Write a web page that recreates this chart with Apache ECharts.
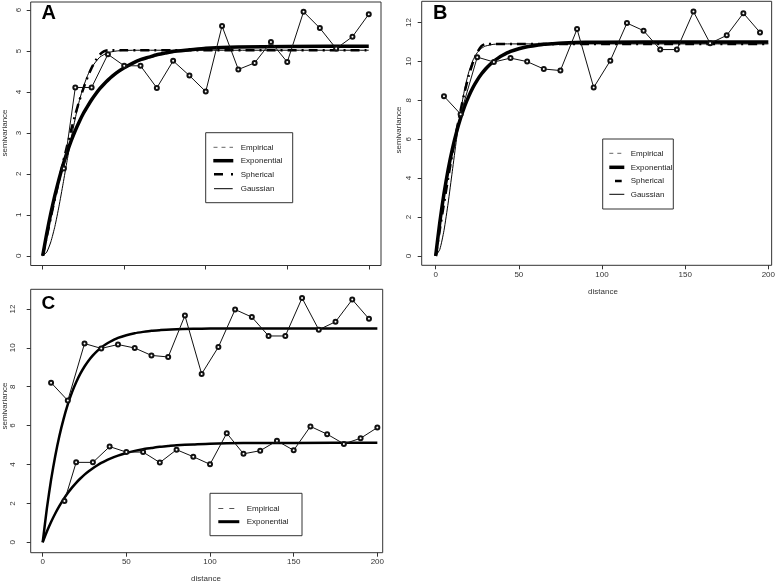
<!DOCTYPE html>
<html><head><meta charset="utf-8">
<script src="https://cdn.jsdelivr.net/npm/echarts@6/dist/echarts.min.js"></script>
<style>html,body{margin:0;padding:0;background:#fff}#c{width:778px;height:584px}</style>
</head><body><div id="c"></div>
<script>
// ---- data ----
// empirical semivariogram, data set 1 (panel A, lower series of C)
const empX1 = [13, 20, 30, 40, 50, 60, 70, 80, 90, 100, 110, 120, 130, 140, 150, 160, 170, 180, 190, 200];
const empY1 = [2.13, 4.11, 4.11, 4.92, 4.64, 4.64, 4.10, 4.76, 4.40, 4.01, 5.61, 4.55, 4.71, 5.22, 4.73, 5.96, 5.56, 5.06, 5.35, 5.90];
// empirical semivariogram, data set 2 (panel B, upper series of C)
const empX2 = [5, 15, 25, 35, 45, 55, 65, 75, 85, 95, 105, 115, 125, 135, 145, 155, 165, 175, 185, 195];
const empY2 = [8.21, 7.29, 10.22, 9.97, 10.17, 9.99, 9.61, 9.53, 11.66, 8.66, 10.04, 11.97, 11.58, 10.61, 10.61, 12.56, 10.93, 11.34, 12.48, 11.49];

// fitted model curves, data set 1
const expX1 = [0, 2.5, 5, 7.5, 10, 12.5, 15, 17.5, 20, 22.5, 25, 27.5, 30, 32.5, 35, 37.5, 40, 45, 50, 55, 60, 65, 70, 75, 80, 90, 100, 120, 150, 200];
const expY1 = [0, 0.55, 1.04, 1.48, 1.87, 2.22, 2.53, 2.81, 3.06, 3.28, 3.48, 3.65, 3.81, 3.95, 4.08, 4.19, 4.29, 4.46, 4.59, 4.70, 4.79, 4.85, 4.91, 4.95, 4.99, 5.03, 5.07, 5.10, 5.11, 5.12];
const sphX1 = [0, 2.5, 5, 7.5, 10, 12.5, 15, 17.5, 20, 22.5, 25, 27.5, 30, 32.5, 35, 37.5, 40, 200];
const sphY1 = [0, 0.47, 0.94, 1.40, 1.84, 2.28, 2.69, 3.08, 3.45, 3.79, 4.09, 4.36, 4.59, 4.77, 4.91, 4.99, 5.02, 5.02];
const gauX1 = [0, 2.5, 5, 7.5, 10, 12.5, 15, 17.5, 20, 22.5, 25, 27.5, 30, 35, 40, 45, 50, 60, 200];
const gauY1 = [0, 0.09, 0.34, 0.72, 1.21, 1.76, 2.33, 2.87, 3.36, 3.79, 4.13, 4.40, 4.60, 4.85, 4.96, 5.00, 5.015, 5.02, 5.02];

// fitted model curves, data set 2
const expX2 = [0, 2.5, 5, 7.5, 10, 12.5, 15, 17.5, 20, 22.5, 25, 27.5, 30, 32.5, 35, 37.5, 40, 45, 50, 55, 60, 65, 70, 80, 90, 100, 150, 200];
const expY2 = [0, 1.74, 3.21, 4.44, 5.48, 6.35, 7.09, 7.71, 8.23, 8.67, 9.04, 9.35, 9.61, 9.83, 10.02, 10.17, 10.30, 10.51, 10.65, 10.75, 10.82, 10.88, 10.91, 10.96, 10.98, 10.99, 11.0, 11.0];
const sphX2 = [0, 2.5, 5, 7.5, 10, 12.5, 15, 17.5, 20, 22.5, 25, 27.5, 30, 200];
const sphY2 = [0, 1.36, 2.70, 4.00, 5.25, 6.42, 7.49, 8.46, 9.29, 9.96, 10.47, 10.79, 10.9, 10.9];
const gauX2 = [0, 2.5, 5, 7.5, 10, 12.5, 15, 17.5, 20, 22.5, 25, 27.5, 30, 35, 40, 200];
const gauY2 = [0, 0.34, 1.31, 2.72, 4.35, 5.98, 7.44, 8.61, 9.48, 10.08, 10.45, 10.67, 10.79, 10.88, 10.9, 10.9];

const xTicks = [0, 50, 100, 150, 200];
const yTicksA = [0, 1, 2, 3, 4, 5, 6];
const yTicksB = [0, 2, 4, 6, 8, 10, 12];
const legendA = ['Empirical', 'Exponential', 'Spherical', 'Gaussian'];
const legendC = ['Empirical', 'Exponential'];
const panelLetters = ['A', 'B', 'C'];

// ---- chart ----
const FONT = '"Liberation Sans", Arial, Helvetica, sans-serif';
const TXT = '#333';
const pairs = (xs, ys) => xs.map((x, i) => [x, ys[i]]);

function xAx(gi, min, max, showLabels) {
  return {
    type: 'value', gridIndex: gi, min: min, max: max, position: 'bottom',
    axisLine: { show: false, onZero: false },
    axisTick: { show: true, length: 4, lineStyle: { color: '#333', width: 1 }, customValues: xTicks },
    axisLabel: { show: showLabels, customValues: xTicks, fontSize: 8, fontFamily: FONT, color: TXT, margin: 5 },
    splitLine: { show: false }
  };
}
function yAx(gi, min, max, ticks, margin) {
  return {
    type: 'value', gridIndex: gi, min: min, max: max, position: 'left',
    axisLine: { show: false, onZero: false },
    axisTick: { show: true, length: 4, lineStyle: { color: '#333', width: 1 }, customValues: ticks },
    axisLabel: { customValues: ticks, rotate: 90, fontSize: 8, fontFamily: FONT, color: TXT, margin: margin },
    splitLine: { show: false }
  };
}
function emp(gi, xs, ys) {
  return {
    type: 'line', xAxisIndex: gi, yAxisIndex: gi, data: pairs(xs, ys),
    symbol: 'emptyCircle', symbolSize: 4, showSymbol: true,
    lineStyle: { color: '#111', width: 1 }, itemStyle: { color: '#111', borderColor: '#111', borderWidth: 0.8 },
    z: 3, silent: true, animation: false
  };
}
function curve(gi, xs, ys, width, type, z) {
  return {
    type: 'line', xAxisIndex: gi, yAxisIndex: gi, data: pairs(xs, ys),
    smooth: 0.2, symbol: 'none',
    lineStyle: { color: '#000', width: width, type: type, cap: 'butt', join: 'round' },
    z: z, silent: true, animation: false
  };
}

function legendBox(x, y, w, h, rows) {
  const children = [{ type: 'rect', shape: { x: x, y: y, width: w, height: h }, style: { fill: '#fff', stroke: '#333', lineWidth: 1 } }];
  rows.forEach(r => {
    if (r.line) {
      children.push({ type: 'line', shape: { x1: r.x1, y1: r.y, x2: r.x2, y2: r.y }, style: { stroke: r.color || '#000', lineWidth: r.w, lineDash: r.dash || null } });
    }
    children.push({ type: 'text', style: { x: r.tx, y: r.y, text: r.label, fontSize: 8, fontFamily: FONT, fill: '#222', verticalAlign: 'middle' } });
  });
  return { type: 'group', children: children, z: 10 };
}

const chart = echarts.init(document.getElementById('c'), null, { renderer: 'canvas' });
const option = {
  animation: false,
  backgroundColor: '#fff',
  grid: [
    { left: 30.7, top: 2, width: 350.3, height: 263.5, show: true, borderColor: '#333', borderWidth: 1, backgroundColor: 'transparent' },
    { left: 421.7, top: 1.3, width: 351.6, height: 264, show: true, borderColor: '#333', borderWidth: 1, backgroundColor: 'transparent' },
    { left: 30.7, top: 289.3, width: 352, height: 263.4, show: true, borderColor: '#333', borderWidth: 1, backgroundColor: 'transparent' }
  ],
  xAxis: [xAx(0, -7.36, 207.5, false), xAx(1, -8.4, 202.0, true), xAx(2, -7.17, 203.2, true)],
  yAxis: [yAx(0, -0.238, 6.198, yTicksA, 8), yAx(1, -0.48, 13.09, yTicksB, 9), yAx(2, -0.535, 13.01, yTicksB, 14)],
  series: [
    curve(0, expX1, expY1, 3.5, 'solid', 2),
    curve(0, sphX1, sphY1, 2.5, [9, 5, 2, 5], 2),
    curve(0, gauX1, gauY1, 1, 'solid', 2),
    emp(0, empX1, empY1),
    curve(1, expX2, expY2, 3.5, 'solid', 2),
    curve(1, sphX2, sphY2, 2.5, [9, 5, 2, 5], 2),
    curve(1, gauX2, gauY2, 1, 'solid', 2),
    emp(1, empX2, empY2),
    curve(2, expX2, expY2, 2.5, 'solid', 2),
    curve(2, expX1, expY1, 2.5, 'solid', 2),
    emp(2, empX2, empY2),
    emp(2, empX1, empY1)
  ],
  graphic: [
    { type: 'text', style: { x: 41.5, y: 23.5, text: panelLetters[0], font: 'bold 20px ' + FONT, fill: '#000', verticalAlign: 'bottom' } },
    { type: 'text', style: { x: 433, y: 23.5, text: panelLetters[1], font: 'bold 20px ' + FONT, fill: '#000', verticalAlign: 'bottom' } },
    { type: 'text', style: { x: 41.5, y: 313.5, text: panelLetters[2], font: 'bold 19px ' + FONT, fill: '#000', verticalAlign: 'bottom' } },
    { type: 'text', x: 5, y: 133, rotation: Math.PI / 2, style: { x: 0, y: 0, text: 'semivariance', fontSize: 8, fontFamily: FONT, fill: TXT, align: 'center', verticalAlign: 'middle' } },
    { type: 'text', x: 398.5, y: 130, rotation: Math.PI / 2, style: { x: 0, y: 0, text: 'semivariance', fontSize: 8, fontFamily: FONT, fill: TXT, align: 'center', verticalAlign: 'middle' } },
    { type: 'text', x: 4.5, y: 406, rotation: Math.PI / 2, style: { x: 0, y: 0, text: 'semivariance', fontSize: 8, fontFamily: FONT, fill: TXT, align: 'center', verticalAlign: 'middle' } },
    { type: 'text', x: 603, y: 292, style: { x: 0, y: 0, text: 'distance', fontSize: 8, fontFamily: FONT, fill: TXT, align: 'center', verticalAlign: 'middle' } },
    { type: 'text', x: 206, y: 579, style: { x: 0, y: 0, text: 'distance', fontSize: 8, fontFamily: FONT, fill: TXT, align: 'center', verticalAlign: 'middle' } },
    legendBox(205.7, 132.7, 87, 70, [
      { label: legendA[0], y: 147.3, tx: 240.7, line: true, x1: 213.5, x2: 233, w: 1, color: '#666', dash: [4, 4] },
      { label: legendA[1], y: 160.7, tx: 240.7, line: true, x1: 213.3, x2: 233.3, w: 3.5 },
      { label: legendA[2], y: 174.3, tx: 240.7, line: true, x1: 214, x2: 233, w: 2.5, dash: [9, 8, 2, 8] },
      { label: legendA[3], y: 188.7, tx: 240.7, line: true, x1: 214, x2: 232.7, w: 1 }
    ]),
    legendBox(602.7, 139, 70.6, 70, [
      { label: legendA[0], y: 153.3, tx: 630.7, line: true, x1: 609.3, x2: 624.3, w: 1, color: '#666', dash: [4, 4] },
      { label: legendA[1], y: 167.3, tx: 630.7, line: true, x1: 609.3, x2: 624.3, w: 3.5 },
      { label: legendA[2], y: 181, tx: 630.7, line: true, x1: 615, x2: 621.7, w: 2.5 },
      { label: legendA[3], y: 194.3, tx: 630.7, line: true, x1: 609.3, x2: 624.3, w: 1 }
    ]),
    legendBox(210, 493.3, 92, 42.4, [
      { label: legendC[0], y: 508.5, tx: 246.7, line: true, x1: 218.3, x2: 239.3, w: 1, color: '#555', dash: [5, 6] },
      { label: legendC[1], y: 521.7, tx: 246.7, line: true, x1: 218.3, x2: 239.3, w: 3 }
    ])
  ]
};
chart.setOption(option);
</script>
</body></html>
